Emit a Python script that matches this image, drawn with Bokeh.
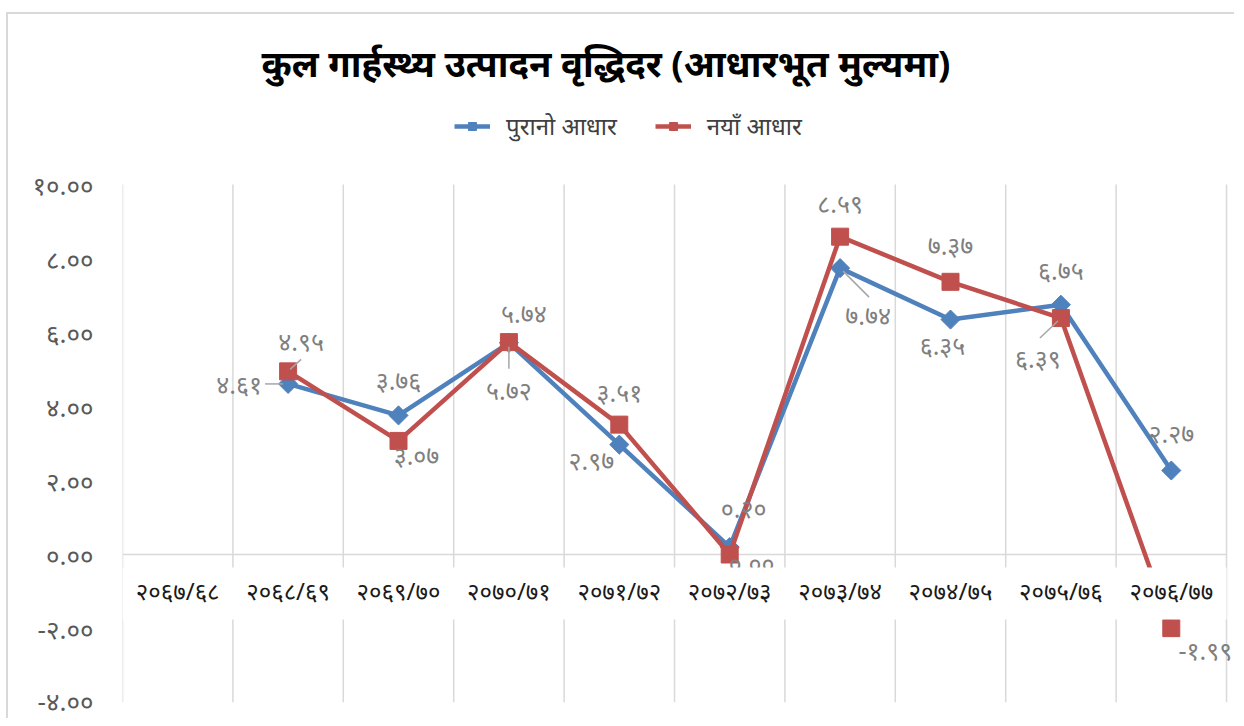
from math import pi
from bokeh.plotting import figure
from bokeh.models import ColumnDataSource, FixedTicker, Legend, LegendItem
from bokeh.core.properties import value
from bokeh.embed import file_html
from bokeh.resources import INLINE

# ---------------- data ----------------
categories = ["२०६७/६८", "२०६८/६९", "२०६९/७०", "२०७०/७१", "२०७१/७२",
              "२०७२/७३", "२०७३/७४", "२०७४/७५", "२०७५/७६", "२०७६/७७"]
old_base = [None, 4.61, 3.76, 5.72, 2.97, 0.20, 7.74, 6.35, 6.75, 2.27]
new_base = [None, 4.95, 3.07, 5.74, 3.51, 0.00, 8.59, 7.37, 6.39, -1.99]
y_ticks = [-4, -2, 0, 2, 4, 6, 8, 10]
title_text = "कुल गार्हस्थ्य उत्पादन वृद्धिदर (आधारभूत मुल्यमा)"
series_names = ["पुरानो आधार", "नयाँ आधार"]

# ---------------- layout / style ----------------
BLUE = "#4f81bd"
RED = "#c0504d"
GRID = "#d9d9d9"
FONT = "Noto Sans"
DEV = str.maketrans("0123456789", "०१२३४५६७८९")


def dev(v):
    return f"{v:.2f}".translate(DEV)


# label pixel offsets (per point, order of non-missing points)
old_dx = [-49, 0, 0, -28, 14, 28, -8, 0, 0]
old_dy = [0, -35, 47, 15, -39, 47, 25, -35, -38]
new_dx = [13, 18, 15, 0, 22, 0, 0, -23, 34]
new_dy = [-30, 14, -29, -33, 8, -34, -37, 40, 22]
# leader lines: (series, point index in category list, dx0, dy0, dx1, dy1) in px
leaders = [("old", 1, -23, 0, -5, 0), ("new", 1, 2, -2, 13, -12),
           ("old", 3, 0, 4, 0, 26), ("old", 6, 3, 3, 29, 29),
           ("new", 8, -3, 3, -21, 20)]
PX_X = 110.4
PX_Y = 37.0
N = len(categories)
Y_MIN, Y_MAX = -4, 10
FRAME_TOP = 78          # canvas px of frame top
VALUE_TOP = 170         # canvas px where y = 10 sits
RIGHT_PAD = 10          # px of frame beyond the last category boundary
Y_TOP = Y_MAX + (VALUE_TOP - FRAME_TOP) / PX_Y
X_MAX = N + RIGHT_PAD / PX_X

p = figure(width=1228, height=706, x_range=(0, X_MAX), y_range=(Y_MIN, Y_TOP),
           x_axis_location=None, output_backend="svg", toolbar_location=None,
           min_border_left=114, min_border_right=0, min_border_top=FRAME_TOP,
           min_border_bottom=18)
p.outline_line_color = None
p.styles = {"margin-left": "6px", "margin-top": "12px",
            "border-left": "2px solid #d9d9d9", "border-top": "2px solid #d9d9d9"}

# title
p.title.text = title_text
p.title.text_font = FONT
p.title.text_font_size = "36.5px"
p.title.text_font_style = "bold"
p.title.text_color = "#000000"
p.title.align = "left"
p.title.offset = 139

# axes & grid
p.yaxis.ticker = FixedTicker(ticks=y_ticks)
p.yaxis.major_label_overrides = {t: dev(t) for t in y_ticks}
p.yaxis.axis_line_color = None
p.yaxis.major_tick_line_color = None
p.yaxis.minor_tick_line_color = None
p.yaxis.major_tick_out = 0
p.yaxis.major_label_standoff = 29
p.yaxis.major_label_text_font = FONT
p.yaxis.major_label_text_font_size = "26px"
p.yaxis.major_label_text_color = "#595959"

p.xgrid.grid_line_color = None
p.ygrid.grid_line_color = None

# category boundary lines (only over the value range) and the zero line
bounds = list(range(N + 1))
p.segment(x0=bounds, y0=[Y_MIN] * len(bounds), x1=bounds, y1=[Y_MAX] * len(bounds),
          line_color=GRID, line_width=1.5)
p.segment(x0=[0], y0=[0], x1=[N], y1=[0], line_color=GRID, line_width=1.5)


def series(vals):
    xs, ys = [], []
    for i, v in enumerate(vals):
        if v is not None:
            xs.append(i + 0.5)
            ys.append(v)
    return xs, ys


ox, oy = series(old_base)
nx, ny = series(new_base)

old_src = ColumnDataSource(dict(x=ox, y=oy, t=[dev(v) for v in oy], dx=old_dx, dy=old_dy))
new_src = ColumnDataSource(dict(x=nx, y=ny, t=[dev(v) for v in ny], dx=new_dx, dy=new_dy))

l_old = p.line("x", "y", source=old_src, color=BLUE, line_width=4.5)
s_old = p.scatter("x", "y", source=old_src, marker="square", angle=pi / 4,
                  size=13.5, color=BLUE)
l_new = p.line("x", "y", source=new_src, color=RED, line_width=4.5)
s_new = p.scatter("x", "y", source=new_src, marker="square", size=17, color=RED)

# leader lines
lx0, ly0, lx1, ly1 = [], [], [], []
for s, i, dx0, dy0, dx1, dy1 in leaders:
    v = old_base[i] if s == "old" else new_base[i]
    xc = i + 0.5
    lx0.append(xc + dx0 / PX_X)
    ly0.append(v - dy0 / PX_Y)
    lx1.append(xc + dx1 / PX_X)
    ly1.append(v - dy1 / PX_Y)
p.segment(lx0, ly0, lx1, ly1, line_color="#a6a6a6", line_width=1.5)

# data labels
for src in (old_src, new_src):
    p.text("x", "y", text="t", source=src, x_offset="dx", y_offset="dy",
           text_align="center", text_baseline="middle",
           text_font=value(FONT), text_font_size="25px", text_color="#7f7f7f")

# white band behind category labels
p.quad(left=0, right=N, top=-0.35, bottom=-1.76, fill_color="white",
       line_color=None)

# category labels on the zero line
cat_src = ColumnDataSource(dict(x=[i + 0.5 for i in range(N)],
                                y=[0] * N, t=categories))
p.text("x", "y", text="t", source=cat_src, y_offset=36, text_align="center",
       text_baseline="middle", text_font=value(FONT), text_font_size="24px",
       text_color="#1a1a1a")

legend = Legend(items=[LegendItem(label=series_names[0], renderers=[l_old, s_old]),
                       LegendItem(label=series_names[1], renderers=[l_new, s_new])],
                orientation="horizontal", location=(332, 560),
                border_line_color=None, background_fill_alpha=0,
                label_text_font=FONT, label_text_font_size="24px",
                label_text_color="#404040", glyph_width=36, spacing=38,
                label_standoff=16)
p.add_layout(legend, "center")

open("out.html", "w").write(file_html(p, INLINE))
